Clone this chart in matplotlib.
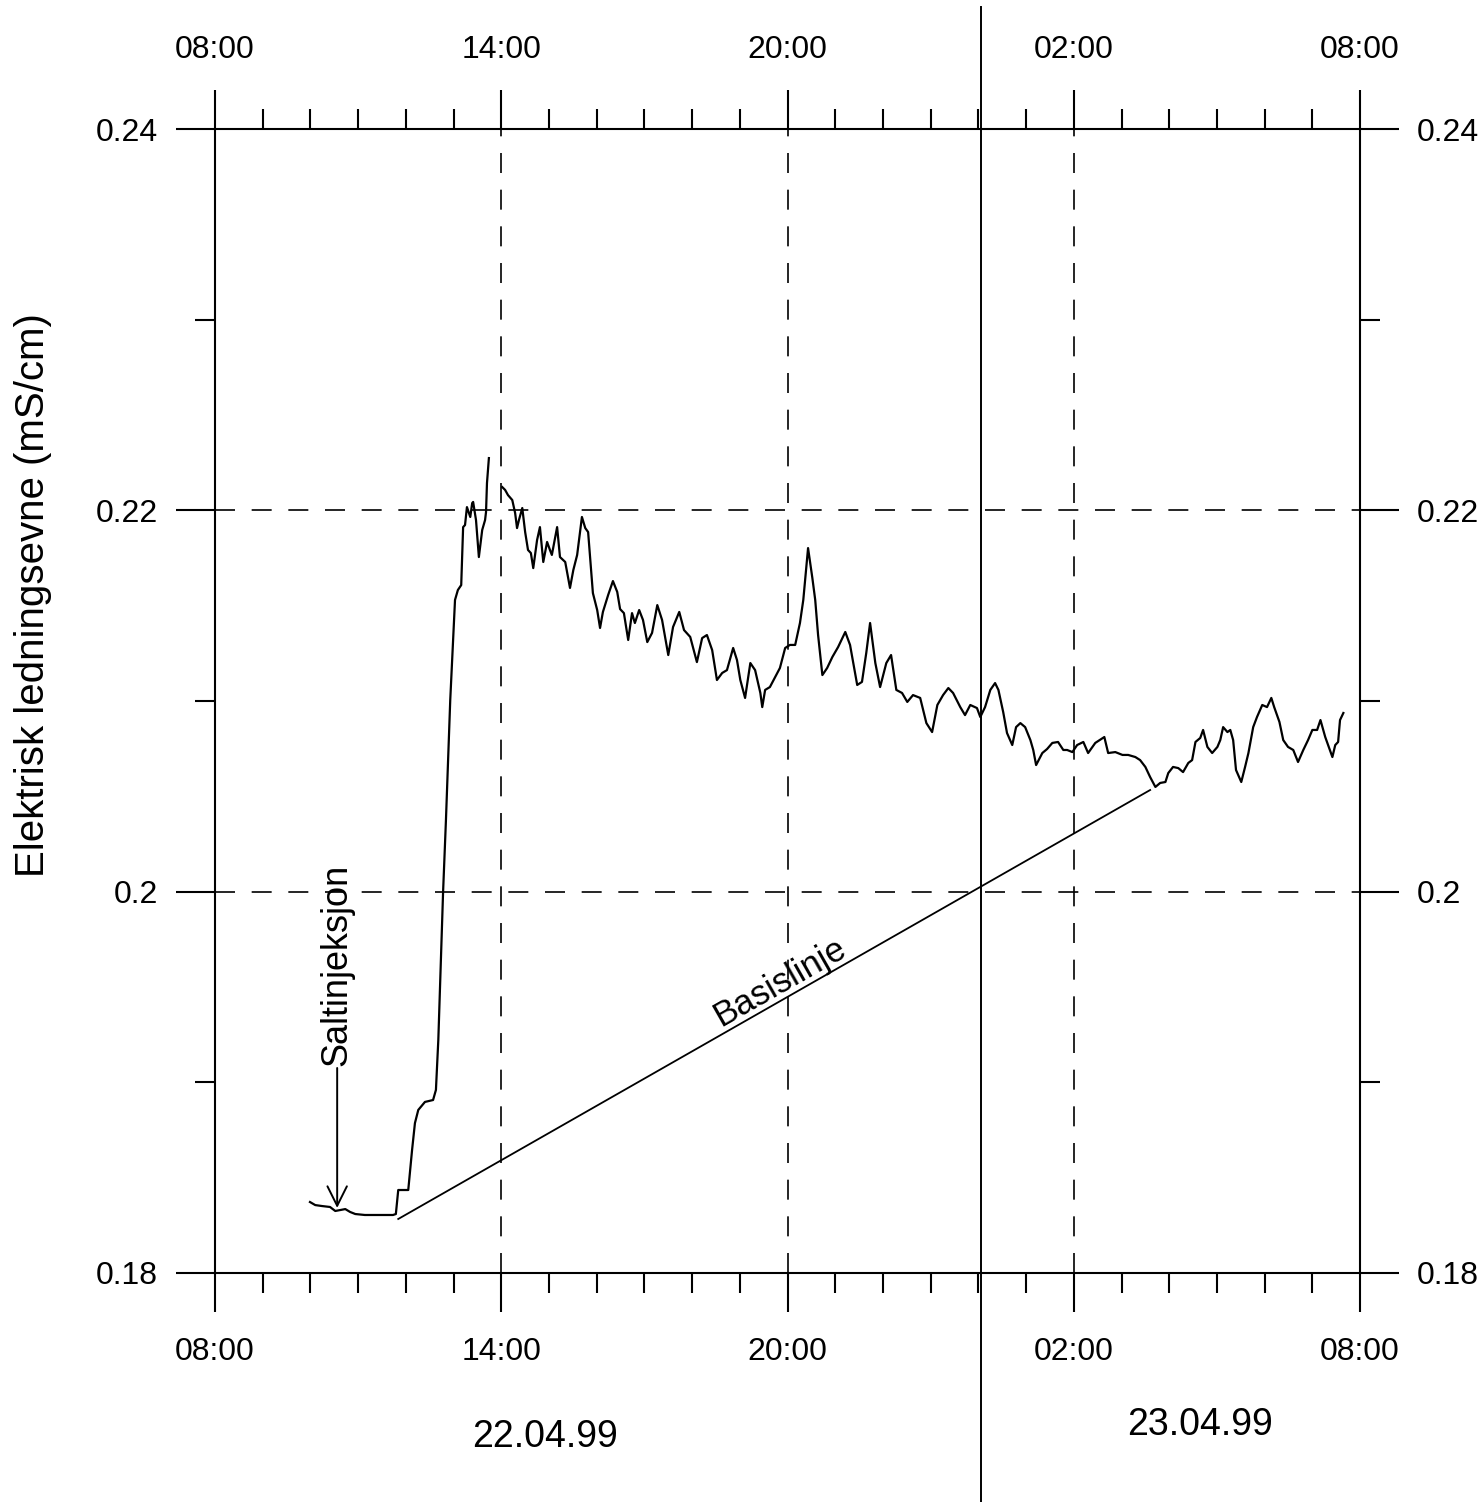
import numpy as np
import matplotlib.pyplot as plt

plt.rcParams['font.family'] = ['Liberation Sans', 'DejaVu Sans']

# time in hours after 08:00 on 22.04.99, conductivity in mS/cm
hours = [1.99, 2.10, 2.24, 2.41, 2.52, 2.62, 2.73, 2.83, 2.94, 3.14, 3.73, 3.79, 3.84, 4.05,
         4.13, 4.19, 4.26, 4.40, 4.57, 4.63, 4.68, 4.72, 4.78, 4.84, 4.93, 4.99, 5.03, 5.09,
         5.16, 5.20, 5.24, 5.28, 5.30, 5.35, 5.39, 5.41, 5.47, 5.53, 5.60, 5.66, 5.68, 5.70,
         5.74, 5.88,
         6.02, 6.08, 6.14, 6.23, 6.29, 6.33, 6.37, 6.44, 6.50, 6.56, 6.62, 6.67, 6.75, 6.81,
         6.88, 6.96, 7.02, 7.06, 7.17, 7.23, 7.34, 7.44, 7.51, 7.59, 7.69, 7.76, 7.82, 7.92,
         8.01, 8.07, 8.13, 8.24, 8.34, 8.43, 8.49, 8.57, 8.66, 8.74, 8.80, 8.89, 8.97, 9.06,
         9.16, 9.27, 9.37, 9.50, 9.60, 9.73, 9.83, 9.96, 10.10, 10.21, 10.31, 10.42, 10.52,
         10.63, 10.73, 10.86, 10.94, 11.01, 11.11, 11.22, 11.32, 11.43, 11.47, 11.53, 11.63,
         11.74, 11.84, 11.95, 12.05, 12.16, 12.26, 12.33, 12.43, 12.52, 12.58, 12.64, 12.73,
         12.83, 12.94, 13.06, 13.21, 13.31, 13.46, 13.56, 13.65, 13.73, 13.84, 13.94, 14.07,
         14.17, 14.28, 14.40, 14.51, 14.63, 14.78, 14.91, 15.03, 15.14, 15.26, 15.37, 15.47,
         15.62, 15.72, 15.83, 15.97, 16.04, 16.14, 16.25, 16.35, 16.42, 16.52, 16.60, 16.71,
         16.79, 16.88, 16.98, 17.09, 17.15, 17.21, 17.34, 17.44, 17.55, 17.67, 17.78, 17.86,
         17.97, 18.07, 18.20, 18.30, 18.45, 18.64, 18.72, 18.87, 19.02, 19.14, 19.29, 19.39,
         19.50, 19.60, 19.71, 19.81, 19.92, 19.98, 20.08, 20.19, 20.29, 20.40, 20.48, 20.55,
         20.65, 20.71, 20.80, 20.90, 21.01, 21.07, 21.13, 21.22, 21.28, 21.34, 21.40, 21.51,
         21.59, 21.66, 21.76, 21.84, 21.95, 22.05, 22.14, 22.20, 22.31, 22.39, 22.49, 22.60,
         22.70, 22.81, 22.91, 23.00, 23.10, 23.17, 23.27, 23.33, 23.42, 23.48, 23.54, 23.58,
         23.65]
cond = [0.18372, 0.18356, 0.18351, 0.18346, 0.18325, 0.18330, 0.18335, 0.18320, 0.18309,
        0.18304, 0.18304, 0.18309, 0.18435, 0.18435, 0.18645, 0.18786, 0.18855, 0.18897,
        0.18907, 0.18960, 0.19222, 0.19537, 0.19998, 0.20376, 0.21005, 0.21320, 0.21530,
        0.21582, 0.21608, 0.21912, 0.21923, 0.22017, 0.22002, 0.21965, 0.22038, 0.22044,
        0.21949, 0.21755, 0.21897, 0.21949, 0.21991, 0.22143, 0.22274, np.nan,
        0.22122, 0.22107, 0.22080, 0.22054, 0.21986, 0.21907, 0.21949, 0.22012, 0.21886,
        0.21792, 0.21776, 0.21697, 0.21844, 0.21912, 0.21729, 0.21834, 0.21792, 0.21766,
        0.21912, 0.21755, 0.21729, 0.21593, 0.21687, 0.21766, 0.21965, 0.21907, 0.21886,
        0.21566, 0.21477, 0.21383, 0.21467, 0.21556, 0.21629, 0.21572, 0.21482, 0.21461,
        0.21320, 0.21461, 0.21409, 0.21477, 0.21425, 0.21309, 0.21357, 0.21503, 0.21425,
        0.21241, 0.21388, 0.21467, 0.21372, 0.21336, 0.21204, 0.21330, 0.21346, 0.21267,
        0.21110, 0.21147, 0.21162, 0.21278, 0.21215, 0.21110, 0.21016, 0.21199, 0.21162,
        0.21042, 0.20968, 0.21058, 0.21073, 0.21126, 0.21173, 0.21278, 0.21294, 0.21294,
        0.21409, 0.21530, 0.21802, 0.21645, 0.21530, 0.21346, 0.21136, 0.21173, 0.21231,
        0.21283, 0.21362, 0.21294, 0.21084, 0.21100, 0.21252, 0.21409, 0.21199, 0.21073,
        0.21199, 0.21241, 0.21058, 0.21042, 0.20995, 0.21031, 0.21016, 0.20884, 0.20837,
        0.20979, 0.21031, 0.21068, 0.21042, 0.20968, 0.20926, 0.20979, 0.20963, 0.20916,
        0.20968, 0.21058, 0.21094, 0.21058, 0.20942, 0.20832, 0.20769, 0.20863, 0.20884,
        0.20863, 0.20795, 0.20743, 0.20664, 0.20727, 0.20748, 0.20780, 0.20785, 0.20743,
        0.20743, 0.20732, 0.20769, 0.20785, 0.20727, 0.20780, 0.20811, 0.20727, 0.20732,
        0.20717, 0.20717, 0.20706, 0.20690, 0.20654, 0.20601, 0.20549, 0.20570, 0.20575,
        0.20622, 0.20654, 0.20648, 0.20627, 0.20675, 0.20690, 0.20785, 0.20806, 0.20848,
        0.20759, 0.20727, 0.20759, 0.20795, 0.20863, 0.20837, 0.20848, 0.20795, 0.20638,
        0.20575, 0.20654, 0.20727, 0.20863, 0.20916, 0.20979, 0.20968, 0.21016, 0.20968,
        0.20890, 0.20795, 0.20759, 0.20743, 0.20680, 0.20743, 0.20795, 0.20848, 0.20848,
        0.20900, 0.20811, 0.20769, 0.20706, 0.20769, 0.20785, 0.20900, 0.20937]

# baseline (Basislinje) end points
base_hours = [3.84, 19.60]
base_cond = [0.18283, 0.20533]

injection_hour = 2.56
injection_cond = 0.18341

major_hours = [0, 6, 12, 18, 24]
hour_labels = ["08:00", "14:00", "20:00", "02:00", "08:00"]
minor_hours = list(range(25))
major_cond = [0.18, 0.20, 0.22, 0.24]
cond_labels = ["0.18", "0.2", "0.22", "0.24"]
minor_cond = [0.19, 0.21, 0.23]
midnight = 16.05

fig = plt.figure(figsize=(14.83, 15.02), dpi=100)
ax = fig.add_axes([0.145, 0.1525, 0.7721, 0.7616])
ax.set_xlim(0, 24)
ax.set_ylim(0.18, 0.24)

lw = 1.5
for s in ax.spines.values():
    s.set_linewidth(lw)

ax.set_xticks(major_hours, hour_labels, fontsize=23)
ax.set_xticks(minor_hours, minor=True)
ax.set_yticks(major_cond, cond_labels, fontsize=23)
ax.set_yticks(minor_cond, minor=True)
ax.tick_params(which='both', direction='out', top=True, right=True,
               labeltop=True, labelright=True, width=lw)
ax.tick_params(which='major', length=28)
ax.tick_params(which='minor', length=14.5)
ax.tick_params(axis='x', which='major', pad=18)
ax.tick_params(axis='y', which='major', pad=13)

# dashed grid
for h in [6, 12, 18]:
    ax.axvline(h, color='black', lw=1.2, dashes=(12, 10))
for c in [0.20, 0.22]:
    ax.axhline(c, color='black', lw=1.2, dashes=(12, 10))

# day boundary
ax.plot([midnight, midnight], [0.1675, 0.2464], color='black', lw=1.4, clip_on=False)

ax.plot(hours, cond, color='black', lw=1.6)
ax.plot(base_hours, base_cond, color='black', lw=1.3)

ax.annotate('', xy=(injection_hour, injection_cond), xytext=(injection_hour, 0.19075),
            arrowprops=dict(arrowstyle='->,head_length=1.4,head_width=0.7', color='black',
                            lw=1.4, shrinkA=0, shrinkB=0))
ax.text(injection_hour, 0.19085, 'Saltinjeksjon', rotation=90, ha='center', va='bottom',
        fontsize=26)
ax.text(11.84, 0.19526, 'Basislinje', rotation=29.7, rotation_mode='anchor',
        ha='center', va='center', fontsize=25)

fig.text(0.0223, 0.6039, 'Elektrisk ledningsevne (mS/cm)', rotation=90,
         ha='center', va='center', fontsize=29)
fig.text(0.3675, 0.0433, '22.04.99', ha='center', va='center', fontsize=27)
fig.text(0.8092, 0.0513, '23.04.99', ha='center', va='center', fontsize=27)

fig.savefig('out.png', dpi=100)
